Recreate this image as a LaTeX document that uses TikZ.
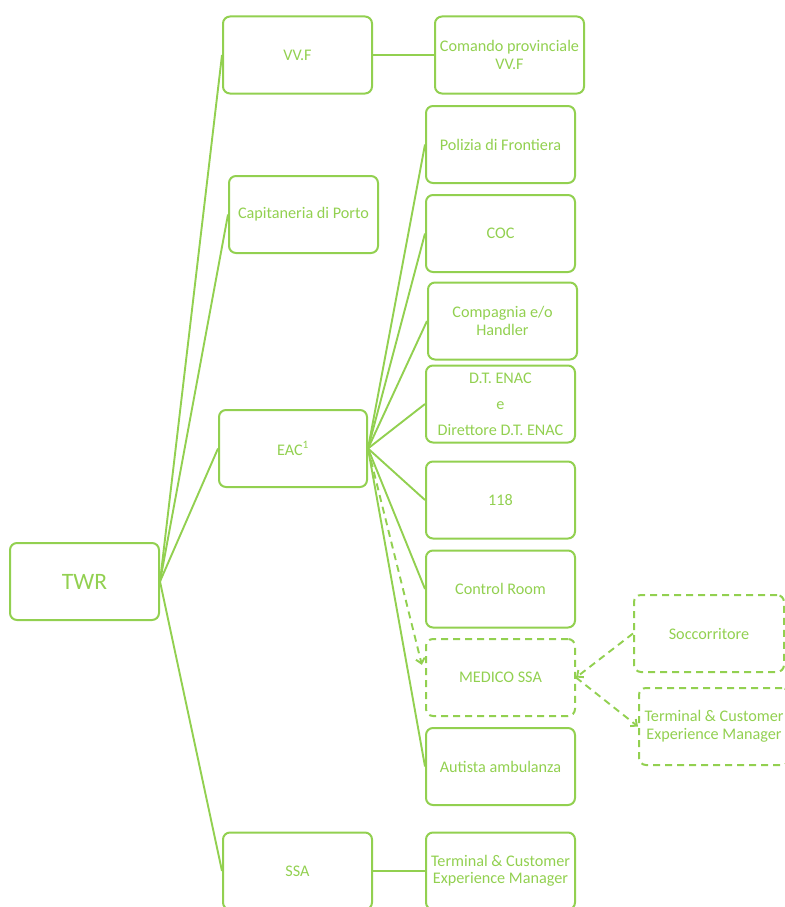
\documentclass[tikz,border=0pt]{standalone}
\usepackage{fontspec}
\setmainfont{Carlito}
\usetikzlibrary{arrows.meta}
\definecolor{lg}{HTML}{92D050}
\begin{document}
\begin{tikzpicture}[x=1pt,y=-1pt,
  box/.style={draw=lg, line width=2pt, rounded corners=7pt, minimum width=149pt, minimum height=77pt, inner sep=0pt, align=center, text=lg, font=\fontsize{16.2}{17.5}\selectfont},
  dbox/.style={box, dash pattern=on 7pt off 5pt},
  conn/.style={draw=lg, line width=1.9pt},
  dconn/.style={conn, dash pattern=on 7pt off 5pt, -{Straight Barb[length=5pt,width=9pt]}}
]
\useasboundingbox (0,0) rectangle (784,907);
\node[box, font=\fontsize{23.5}{26}\selectfont] (twr) at (84.5,581.5) {TWR};
\node[box] (vvf) at (297.5,55) {VV.F};
\node[box] (com) at (509.5,55) {Comando provinciale\\VV.F};
\node[box] (cap) at (303.5,214.5) {Capitaneria di Porto};
\node[box, minimum width=148pt] (eac) at (293,448.5) {EAC\textsuperscript{1}};
\node[box] (ssa) at (297.5,871) {SSA};
\node[box] (term2) at (500.5,871) {Terminal \& Customer\\Experience Manager};
\node[box] (pol) at (500.5,144.5) {Polizia di Frontiera};
\node[box] (coc) at (500.5,233.5) {COC};
\node[box] (comp) at (502.5,321) {Compagnia e/o\\Handler};
\node[box] (dt) at (500.5,404) {D.T. ENAC\\[8.5pt]e\\[8.5pt]Direttore D.T. ENAC};
\node[box] (n118) at (500.5,500) {118};
\node[box] (ctrl) at (500.5,589) {Control Room};
\node[dbox] (med) at (500.5,677.5) {MEDICO SSA};
\node[box] (aut) at (500.5,766.5) {Autista ambulanza};
\node[dbox, minimum width=150pt] (socc) at (709,633.5) {Soccorritore};
\node[dbox, minimum width=150pt] (term1) at (714,726.5) {Terminal \& Customer\\Experience Manager};
% TWR connectors
\draw[conn] (twr.east) -- (vvf.west);
\draw[conn] (twr.east) -- (cap.west);
\draw[conn] (twr.east) -- (eac.west);
\draw[conn] (twr.east) -- (ssa.west);
\draw[conn] (vvf.east) -- (com.west);
\draw[conn] (ssa.east) -- (term2.west);
% EAC connectors
\foreach \t in {pol,coc,comp,dt,n118,ctrl,aut}
  \draw[conn] (eac.east) -- (\t.west);
\draw[dconn, shorten >=13pt] (eac.east) -- (med.west);
\draw[dconn] (socc.west) -- (med.east);
\draw[dconn] (med.east) -- (term1.west);
\end{tikzpicture}
\end{document}
